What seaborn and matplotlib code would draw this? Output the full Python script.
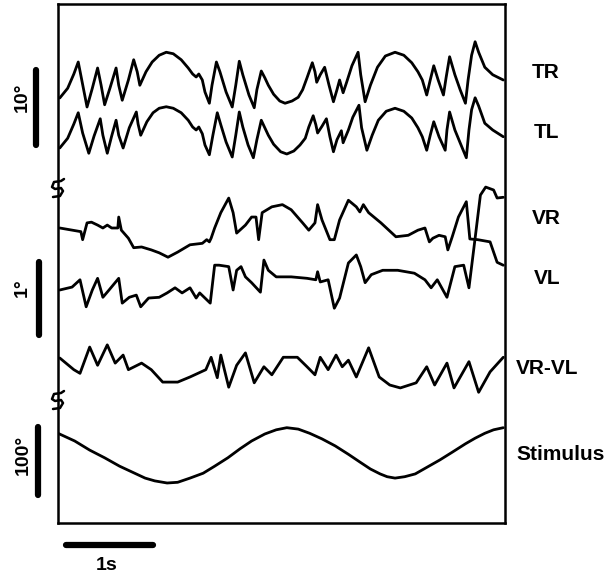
import numpy as np
import matplotlib
matplotlib.use("Agg")
import matplotlib.pyplot as plt
import seaborn as sns

sns.set_theme(style="white")
plt.rcParams['font.family'] = ['Liberation Sans', 'DejaVu Sans']
plt.rcParams['text.color'] = 'black'

# ---------------- data (time in s, deflection in degrees) ----------------
TR_t = [0.02,0.11,0.18,0.23,0.27,0.33,0.39,0.45,0.49,0.53,0.59,0.66,0.69,0.73,0.80,0.86,0.90,0.93,1.00,1.07,
        1.15,1.23,1.31,1.40,1.48,1.53,1.57,1.60,1.64,1.67,1.72,1.75,1.80,1.84,1.91,1.98,2.02,2.06,2.10,2.17,
        2.23,2.26,2.31,2.35,2.39,2.45,2.52,2.58,2.66,2.73,2.78,2.83,2.89,2.92,2.94,2.98,3.03,3.08,3.13,3.17,
        3.20,3.24,3.28,3.34,3.41,3.44,3.49,3.55,3.63,3.72,3.83,3.93,4.02,4.09,4.14,4.19,4.23,4.27,4.32,4.38,
        4.41,4.45,4.51,4.57,4.63,4.66,4.70,4.74,4.78,4.85,4.94,5.06]
TR_v = [0,1.3,3.2,4.8,2.4,-1.2,1.3,4.0,1.7,-0.9,1.3,4.0,1.7,-0.3,2.4,5.1,3.5,1.7,3.5,4.8,
        5.7,6.1,5.9,5.1,4.0,3.2,2.8,3.2,2.4,0.8,-0.7,1.7,4.8,3.5,0.8,-1.2,1.7,4.9,3.1,0.4,
        -1.3,1.1,3.6,2.7,1.7,0.5,-0.4,-0.7,-0.4,0.1,1.1,2.7,4.7,3.5,2.1,3.1,4.1,1.7,-0.5,1.1,
        2.4,0.7,2.1,4.3,6.1,3.1,-0.5,1.7,4.1,5.6,6.1,5.7,4.7,3.5,2.4,0.4,2.4,4.3,2.4,0.4,
        2.7,5.5,3.1,1.1,-0.7,2.4,5.7,7.5,6.1,4.1,3.1,2.4]

TL_t = [0.02,0.11,0.18,0.23,0.28,0.35,0.41,0.48,0.51,0.56,0.61,0.66,0.69,0.74,0.81,0.89,0.91,0.94,1.01,1.08,
        1.15,1.23,1.31,1.40,1.48,1.53,1.57,1.60,1.64,1.67,1.72,1.76,1.81,1.85,1.91,1.98,2.02,2.06,2.10,2.16,
        2.22,2.26,2.31,2.35,2.39,2.45,2.53,2.60,2.68,2.75,2.81,2.85,2.90,2.93,2.95,3.00,3.05,3.09,3.13,3.17,
        3.22,3.24,3.30,3.35,3.42,3.45,3.51,3.57,3.64,3.73,3.83,3.93,4.02,4.09,4.14,4.19,4.23,4.27,4.33,4.40,
        4.42,4.45,4.51,4.58,4.64,4.67,4.70,4.74,4.78,4.85,4.94,5.06]
TL_v = [0,1.3,3.2,4.7,2.0,-0.7,1.6,3.9,1.7,-0.7,1.6,3.7,1.7,0,2.7,4.8,3.2,1.7,3.5,4.7,
        5.3,5.5,5.3,4.7,3.7,2.8,2.4,2.8,1.9,0.4,-0.9,1.7,4.7,3.1,0.8,-1.2,1.7,4.8,2.8,0.4,
        -1.3,1.1,3.7,2.7,1.7,0.5,-0.5,-0.8,-0.4,0.4,1.3,2.8,4.3,3.1,2.0,2.9,3.9,1.5,-0.5,1.1,
        2.3,0.7,2.4,4.1,5.7,2.7,-0.3,1.7,3.7,4.9,5.3,4.9,4.0,2.7,1.5,-0.3,1.7,3.5,1.5,-0.3,
        2.4,4.8,2.4,0.4,-1.3,2.4,5.1,6.7,5.6,3.3,2.4,1.5]

VR_t = [0.02,0.26,0.28,0.33,0.38,0.45,0.51,0.56,0.61,0.68,0.69,0.72,0.80,0.86,0.95,1.06,1.15,1.25,1.36,1.50,
        1.64,1.69,1.72,1.74,1.78,1.85,1.94,1.99,2.03,2.13,2.20,2.25,2.28,2.32,2.43,2.55,2.65,2.78,2.85,2.92,
        2.95,3.00,3.09,3.14,3.20,3.30,3.39,3.43,3.47,3.53,3.67,3.84,3.98,4.09,4.17,4.22,4.26,4.33,4.40,4.43,
        4.48,4.55,4.64,4.68,4.77,4.91,4.99,5.06]
VR_v = [0,-0.05,-0.16,0.07,0.08,0.04,0,0.04,0,0,0.15,-0.03,-0.14,-0.27,-0.26,-0.30,-0.34,-0.40,-0.33,-0.23,
        -0.21,-0.16,-0.19,-0.14,0,0.21,0.41,0.21,-0.07,0.04,0.15,0.15,-0.16,0.21,0.29,0.32,0.25,0.07,-0.03,0.07,
        0.32,0.11,-0.16,-0.16,0.11,0.38,0.29,0.22,0.32,0.21,0.07,-0.12,-0.10,-0.03,0,-0.19,-0.14,-0.10,-0.12,-0.30,
        -0.12,0.15,0.36,-0.15,-0.16,-0.19,-0.47,-0.51]

VL_t = [0.02,0.16,0.25,0.32,0.39,0.45,0.51,0.58,0.69,0.73,0.81,0.89,0.94,1.03,1.15,1.24,1.33,1.41,1.50,1.57,
        1.61,1.73,1.78,1.83,1.94,1.99,2.03,2.08,2.13,2.20,2.30,2.34,2.39,2.48,2.65,2.83,2.93,2.95,2.98,3.07,
        3.14,3.20,3.30,3.39,3.44,3.49,3.56,3.69,3.86,4.05,4.17,4.24,4.31,4.42,4.51,4.61,4.67,4.74,4.80,4.86,
        4.95,4.99,5.06]
VL_v = [0,0.04,0.14,-0.23,0,0.16,-0.10,0,0.16,-0.18,-0.10,-0.07,-0.23,-0.11,-0.10,-0.04,0.03,-0.04,0.03,-0.11,
        -0.04,-0.18,0.34,0.34,0.32,0,0.27,0.32,0.18,0.10,-0.03,0.41,0.27,0.18,0.18,0.16,0.14,0.25,0.11,0.14,
        -0.25,-0.11,0.37,0.48,0.32,0.10,0.21,0.27,0.27,0.23,0.14,0.03,0.14,-0.10,0.32,0.34,0.03,0.71,1.30,1.41,
        1.37,1.26,1.27]

VD_t = [0.02,0.18,0.25,0.36,0.45,0.56,0.65,0.74,0.80,0.95,1.06,1.19,1.36,1.50,1.68,1.74,1.81,1.85,1.94,2.03,
        2.13,2.23,2.34,2.43,2.56,2.72,2.83,2.92,2.98,3.07,3.16,3.23,3.30,3.39,3.53,3.65,3.77,3.89,4.07,4.19,
        4.28,4.42,4.50,4.67,4.78,4.91,5.06]
VD_v = [0,-0.16,-0.21,0.15,-0.10,0.18,-0.07,0.04,-0.16,-0.07,-0.16,-0.33,-0.33,-0.26,-0.16,0.01,-0.27,0.04,-0.40,-0.10,
        0.07,-0.34,-0.12,-0.23,0.01,0.01,-0.12,-0.23,0.01,-0.16,0.04,-0.12,-0.03,-0.26,0.14,-0.26,-0.37,-0.41,-0.34,-0.12,
        -0.37,-0.07,-0.41,-0.05,-0.47,-0.19,0.01]

ST_t = [0.00,0.19,0.36,0.53,0.70,0.99,1.10,1.24,1.36,1.50,1.65,1.78,1.93,2.07,2.20,2.35,2.48,2.60,2.73,2.86,
        3.00,3.15,3.30,3.43,3.55,3.66,3.74,3.83,3.94,4.06,4.20,4.34,4.48,4.63,4.74,4.85,4.95,5.06]
ST_v = [31,20,7,-4,-16,-33,-37,-40,-39,-33,-26,-16,-4,9,20,30,36,39,37,31,
        23,13,1,-10,-20,-27,-31,-33,-31,-27,-17,-7,4,16,24,31,36,39]

trace_names = ["TR", "TL", "VR", "VL", "VR-VL", "Stimulus"]

# ---------------- layout ----------------
W, H = 605, 578
fig = plt.figure(figsize=(W / 100, H / 100), dpi=100)
L, R, T, B = 58, 505, 4, 523
ax = fig.add_axes([L / W, (H - B) / H, (R - L) / W, (B - T) / H])
PX_PER_S = 88.0
ax.set_xlim(0, (R - L) / PX_PER_S)
ax.set_ylim(B, T)   # vertical axis in figure rows

lw = 2.0
def draw(t, v, base, gain):
    y = base - np.asarray(v) * gain
    sns.lineplot(x=np.asarray(t), y=y, ax=ax, color="black", lw=lw, sort=False, estimator=None)
    ax.lines[-1].set_solid_joinstyle("round")
    ax.lines[-1].set_solid_capstyle("round")

draw(TR_t, TR_v, 98, 7.5)
draw(TL_t, TL_v, 148, 7.5)
draw(VR_t, VR_v, 228, 73)
draw(VL_t, VL_v, 290, 73)
draw(VD_t, VD_v, 358, 73)
draw(ST_t, ST_v, 455, 0.7)

for s in ax.spines.values():
    s.set_visible(True)
    s.set_color("black")
    s.set_linewidth(1.8)
ax.set_xticks([]); ax.set_yticks([])
ax.set_xlabel(""); ax.set_ylabel("")

def px(xp):
    return (xp - L) / PX_PER_S

# trace labels
lab_font = dict(fontsize=15, fontweight="bold", va="center", ha="left", clip_on=False, color="black")
ax.text(px(532), 72, "TR", **lab_font)
ax.text(px(534), 133, "TL", **lab_font)
ax.text(px(532), 219, "VR", **lab_font)
ax.text(px(534), 279, "VL", **lab_font)
ax.text(px(516), 369, "VR-VL", **lab_font)
ax.text(px(516), 455, "Stimulus", **lab_font)

# vertical scale bars
for xb, y0, y1 in [(36, 70, 145), (39, 262, 335), (38, 427, 495)]:
    ax.plot([px(xb), px(xb)], [y0, y1], color="black", lw=4.5, solid_capstyle="round", clip_on=False)
sc_font = dict(fontsize=14, fontweight="bold", rotation=90, va="center", ha="center", clip_on=False, color="black")
ax.text(px(22), 97, "10°", **sc_font)
ax.text(px(22), 288, "1°", **sc_font)
ax.text(px(23), 455, "100°", **sc_font)

# time scale bar
ax.plot([px(66), px(153)], [545, 545], color="black", lw=4.5, solid_capstyle="round", clip_on=False)
ax.text(px(107), 566, "1s", fontsize=14, fontweight="bold", ha="center", va="center", clip_on=False, color="black")

# axis-break marks on the left border
for yb in (188, 400):
    xs = [px(L + 6), px(L + 3), px(L - 4), px(L - 6), px(L - 3), px(L + 3), px(L + 5), px(L + 2), px(L - 5)]
    ys = [yb - 9, yb - 7, yb - 6, yb - 1, yb + 1, yb, yb + 3, yb + 8, yb + 9]
    ax.plot(xs, ys, color="black", lw=1.8, clip_on=False)

fig.savefig("out.png", dpi=100, facecolor="white")
